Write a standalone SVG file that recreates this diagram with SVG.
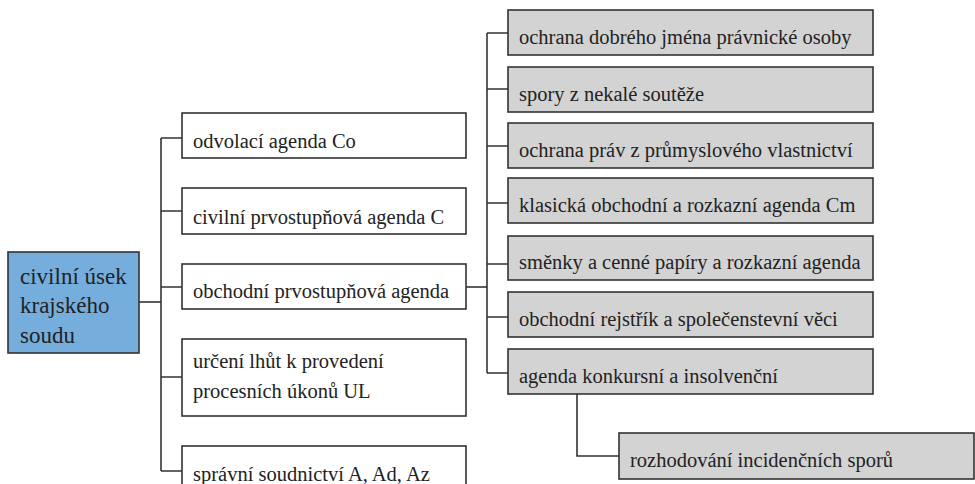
<svg xmlns="http://www.w3.org/2000/svg" width="975" height="484" viewBox="0 0 975 484">
<style>
  .box{fill:#ffffff;stroke:#333333;stroke-width:1.6}
  .gray{fill:#d3d3d3;stroke:#333333;stroke-width:1.6}
  .root{fill:#75aedd;stroke:#333333;stroke-width:1.6}
  .conn{fill:none;stroke:#333333;stroke-width:1.6}
  .t{font-family:'Liberation Serif','DejaVu Serif',serif;fill:#222222;font-size:20.5px}
  .rt{font-size:23px}
</style>
<rect width="975" height="484" fill="#ffffff"/>
<g id="connectors">
  <path class="conn" d="M139,302 H161"/>
  <path class="conn" d="M161,138 V471"/>
  <path class="conn" d="M161,138 H182 M161,211 H182 M161,287 H182 M161,377 H182 M161,471 H182"/>
  <path class="conn" d="M466,287 H487"/>
  <path class="conn" d="M487,33 V373"/>
  <path class="conn" d="M487,33 H508 M487,89 H508 M487,146 H508 M487,203 H508 M487,264 H508 M487,317 H508 M487,373 H508"/>
  <path class="conn" d="M577,394 V456 H619"/>
</g>
<g class="t">
<g id="root">
  <rect class="root" x="8" y="252" width="131" height="101"/>
  <text class="rt" x="20" y="284">civilní úsek</text>
  <text class="rt" x="20" y="313">krajského</text>
  <text class="rt" x="20" y="343">soudu</text>
</g>
<g id="m1">
  <rect class="box" x="182" y="113" width="284" height="45"/>
  <text x="193" y="148">odvolací agenda Co</text>
</g>
<g id="m2">
  <rect class="box" x="182" y="188" width="284" height="46"/>
  <text x="193" y="224">civilní prvostupňová agenda C</text>
</g>
<g id="m3">
  <rect class="box" x="182" y="264" width="284" height="45"/>
  <text x="193" y="298">obchodní prvostupňová agenda</text>
</g>
<g id="m4">
  <rect class="box" x="182" y="339" width="284" height="77"/>
  <text x="193" y="368">určení lhůt k provedení</text>
  <text x="193" y="398">procesních úkonů UL</text>
</g>
<g id="m5">
  <rect class="box" x="182" y="446" width="284" height="46"/>
  <text x="193" y="481">správní soudnictví A, Ad, Az</text>
</g>
<g id="r1">
  <rect class="gray" x="508" y="10" width="365" height="45"/>
  <text x="519" y="44">ochrana dobrého jména právnické osoby</text>
</g>
<g id="r2">
  <rect class="gray" x="508" y="67" width="365" height="45"/>
  <text x="519" y="101">spory z nekalé soutěže</text>
</g>
<g id="r3">
  <rect class="gray" x="508" y="123" width="365" height="45"/>
  <text x="519" y="157">ochrana práv z průmyslového vlastnictví</text>
</g>
<g id="r4">
  <rect class="gray" x="508" y="178" width="365" height="45"/>
  <text x="519" y="212">klasická obchodní a rozkazní agenda Cm</text>
</g>
<g id="r5">
  <rect class="gray" x="508" y="236" width="365" height="44"/>
  <text x="519" y="269">směnky a cenné papíry a rozkazní agenda</text>
</g>
<g id="r6">
  <rect class="gray" x="508" y="292" width="365" height="45"/>
  <text x="519" y="326">obchodní rejstřík a společenstevní věci</text>
</g>
<g id="r7">
  <rect class="gray" x="508" y="349" width="365" height="45"/>
  <text x="519" y="383">agenda konkursní a insolvenční</text>
</g>
<g id="child">
  <rect class="gray" x="619" y="433" width="355" height="46"/>
  <text x="630" y="467">rozhodování incidenčních sporů</text>
</g>
</g>
</svg>
